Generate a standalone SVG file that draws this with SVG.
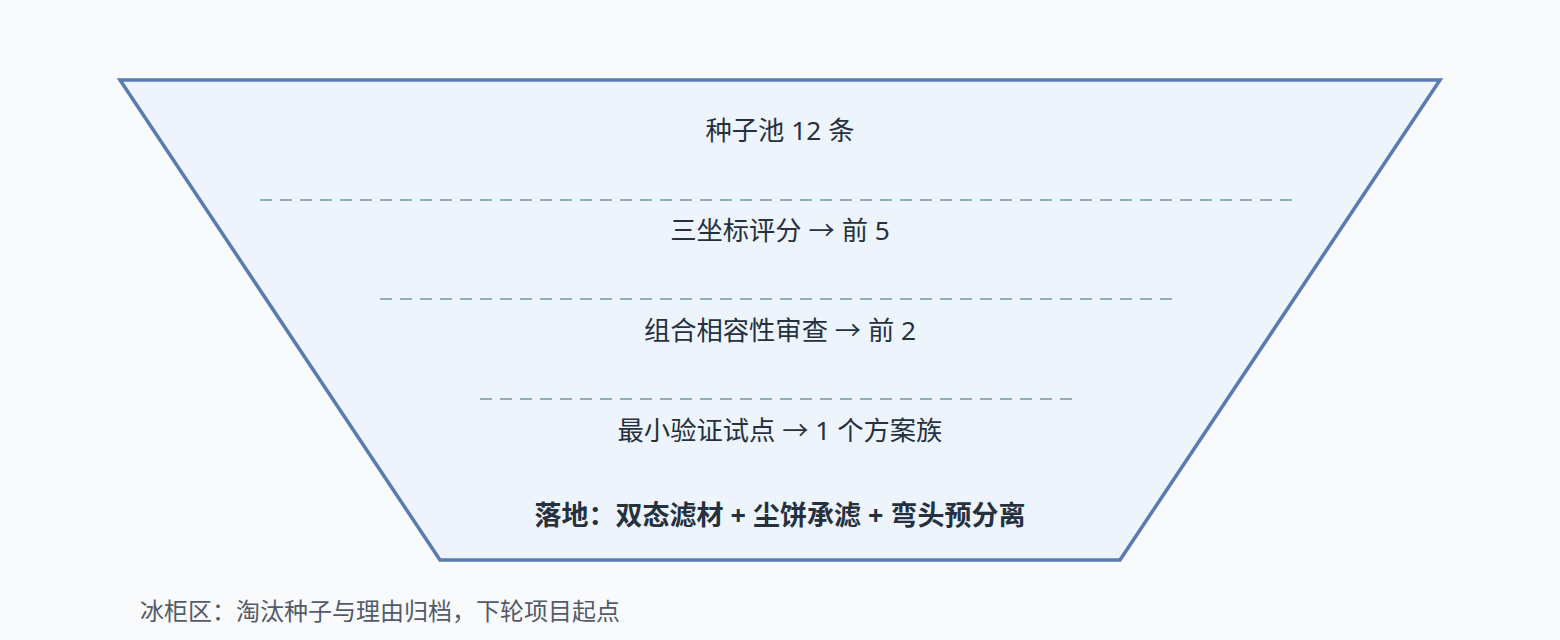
<svg xmlns="http://www.w3.org/2000/svg" width="1560" height="640" viewBox="0 0 1560 640">
<style>
.lbl{font-family:"Noto Sans","Noto Sans CJK SC",sans-serif;font-size:26.3px;fill:#263140;text-anchor:middle}
.bold{font-weight:bold;font-size:27px}
.note{font-family:"Noto Sans","Noto Sans CJK SC",sans-serif;font-size:24px;fill:#545a6a}
.sep{stroke:#8fb0ae;stroke-width:2;stroke-dasharray:12 8;fill:none}
</style>
<rect width="1560" height="640" fill="#f8fafc"/>
<g id="funnel">
<polygon points="120,80 1440,80 1120,560 440,560" fill="#eef4fb" stroke="#5b7bb0" stroke-width="3.5" stroke-linejoin="miter"/>
</g>
<g id="separators">
<line class="sep" x1="260" y1="200" x2="1300" y2="200"/>
<line class="sep" x1="380" y1="299" x2="1180" y2="299"/>
<line class="sep" x1="480" y1="399" x2="1080" y2="399"/>
</g>
<g id="stage1"><text class="lbl" x="780" y="140">种子池 12 条</text></g>
<g id="stage2"><text class="lbl" x="780" y="240">三坐标评分 → 前 5</text></g>
<g id="stage3"><text class="lbl" x="780" y="340">组合相容性审查 → 前 2</text></g>
<g id="stage4"><text class="lbl" x="780" y="440">最小验证试点 → 1 个方案族</text></g>
<g id="result"><text class="lbl bold" x="780" y="525">落地：双态滤材 + 尘饼承滤 + 弯头预分离</text></g>
<g id="freezer"><text class="note" x="140" y="620">冰柜区：淘汰种子与理由归档，下轮项目起点</text></g>
</svg>
